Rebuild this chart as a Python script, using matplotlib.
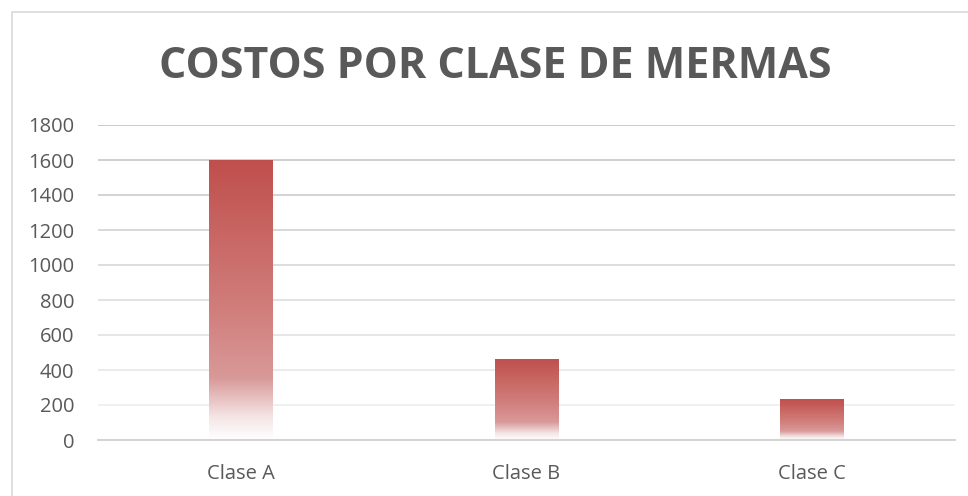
import matplotlib.pyplot as plt
import numpy as np
from matplotlib.colors import LinearSegmentedColormap
from matplotlib.patches import Rectangle

categories = ["Clase A", "Clase B", "Clase C"]
costos = [1600, 463, 234]
y_ticks = [0, 200, 400, 600, 800, 1000, 1200, 1400, 1600, 1800]

text_color = "#595959"

fig = plt.figure(figsize=(9.68, 4.96), dpi=100)
ax = fig.add_axes([98 / 968, 1 - 440 / 496, (955 - 98) / 968, 315 / 496])

bars = ax.bar(categories, costos, width=0.224, color="none", edgecolor="none", zorder=2)

# bottom -> top gradient, fades to white at the base
grad = LinearSegmentedColormap.from_list(
    "merma",
    [(0.0, (1.0, 1.0, 1.0)),
     (0.08, (0.96, 0.90, 0.90)),
     (0.22, (0.85, 0.60, 0.60)),
     (0.45, (0.82, 0.50, 0.49)),
     (1.0, (0.75, 0.31, 0.30))])
g = np.linspace(0, 1, 256).reshape(-1, 1)
for b in bars:
    x0, y0 = b.get_x(), b.get_y()
    w, h = b.get_width(), b.get_height()
    im = ax.imshow(g, cmap=grad, origin="lower", aspect="auto",
                   extent=[x0, x0 + w, y0, y0 + h], zorder=2)
    im.set_clip_path(b)

ax.set_xlim(-0.5, 2.5)
ax.set_ylim(0, 1800)
ax.set_yticks(y_ticks)
ax.grid(axis="y", linewidth=1.2, zorder=0)
greys = np.linspace(0.95, 0.76, len(y_ticks))
for gl, c in zip(ax.get_ygridlines(), greys):
    gl.set_color((c, c, c))

for s in ["top", "right", "left"]:
    ax.spines[s].set_visible(False)
ax.spines["bottom"].set_color("#D0D0D0")
ax.spines["bottom"].set_linewidth(1.3)
ax.tick_params(axis="both", length=0, labelsize=14.5, labelcolor=text_color)
ax.tick_params(axis="y", pad=17)
ax.tick_params(axis="x", pad=17)
for lab in ax.get_xticklabels() + ax.get_yticklabels():
    lab.set_family("Open Sans")

fig.text(495 / 968, 1 - 66 / 496, "COSTOS POR CLASE DE MERMAS", ha="center", va="center",
         fontsize=31, fontweight="bold", color=text_color, family="Open Sans")

fig.patches.append(Rectangle((12 / 968, -0.05), 1, 1.05 - 12 / 496, transform=fig.transFigure,
                             fill=False, edgecolor="#D9D9D9", linewidth=1.2))

fig.savefig("out.png", dpi=100)
